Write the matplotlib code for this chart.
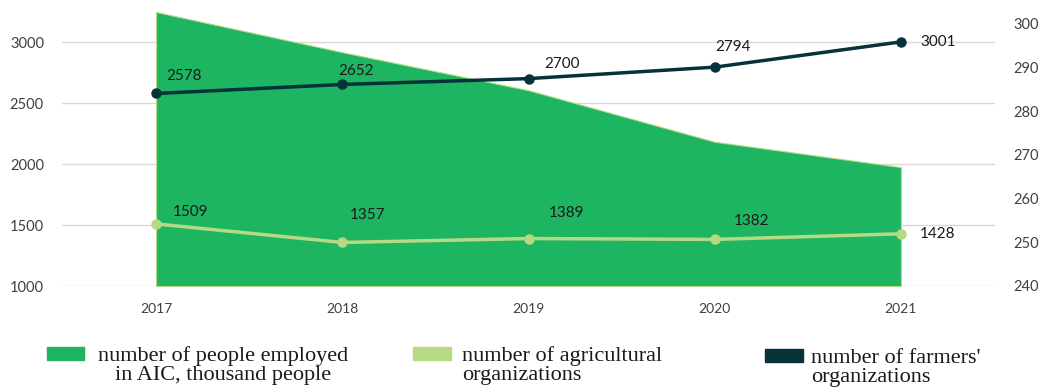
import numpy as np
import matplotlib
matplotlib.use('Agg')
import matplotlib.pyplot as plt
from matplotlib.patches import Rectangle
from matplotlib.transforms import blended_transform_factory

years = ['2017', '2018', '2019', '2020', '2021']
employed = [302.7, 293.5, 284.8, 273.0, 267.2]      # thousand people, right axis
agri_orgs = [1509, 1357, 1389, 1382, 1428]
farmer_orgs = [2578, 2652, 2700, 2794, 3001]

green = '#1db462'
light = '#b6da84'
dark = '#06323a'
txt = '#404040'

W, H = 1046, 390
fig = plt.figure(figsize=(W / 100, H / 100), dpi=100)
ax = fig.add_axes([62 / W, 1 - 286 / H, (995 - 62) / W, (286 - 12) / H])
ax2 = ax.twinx()

x = np.arange(len(years))

# area on the bottom axes (its ticks shown on the right)
ax.fill_between(x, 240, employed, color=green, edgecolor=light, linewidth=0.8, zorder=2)
ax.set_ylim(240, 302.7)
ax.yaxis.tick_right()
ax.set_yticks([240, 250, 260, 270, 280, 290, 300])
ax.set_xlim(-0.505, 4.505)
ax.set_xticks(x, years)

# lines on the top axes (ticks on the left)
ax2.yaxis.tick_left()
ax2.set_ylim(1000, 3246)
ax2.set_yticks([1000, 1500, 2000, 2500, 3000])

# gridlines for the left scale, drawn under the area
tr = blended_transform_factory(ax.transAxes, ax2.transData)
for v in [1000, 1500, 2000, 2500, 3000]:
    ax.plot([0, 1], [v, v], transform=tr, color='#d9d9d9', lw=1, zorder=1)

ax2.plot(x, agri_orgs, color=light, lw=2.5, marker='o', ms=6.5, zorder=3)
ax2.plot(x, farmer_orgs, color=dark, lw=2.5, marker='o', ms=6.5, zorder=4)

# label offsets in pixels (dx, dy upward)
dark_off = [(28, 17), (14, 13), (34, 15), (18, 20), (37, 0)]
light_off = [(34, 12), (25, 27), (38, 26), (37, 18), (37, 0)]
for i in range(len(years)):
    ax2.annotate(str(farmer_orgs[i]), (x[i], farmer_orgs[i]), xytext=dark_off[i],
                 textcoords='offset pixels', ha='center', va='center',
                 fontsize=11, color='#1a1a1a', family='Lato')
    ax2.annotate(str(agri_orgs[i]), (x[i], agri_orgs[i]), xytext=light_off[i],
                 textcoords='offset pixels', ha='center', va='center',
                 fontsize=11, color='#1a1a1a', family='Lato')

for a in (ax, ax2):
    for s in a.spines.values():
        s.set_visible(False)
    a.tick_params(length=0, labelsize=10.5, labelcolor=txt)
    for lab in a.get_xticklabels() + a.get_yticklabels():
        lab.set_family('Lato')
ax.tick_params(axis='y', pad=13)
ax2.tick_params(axis='y', pad=13)
ax.tick_params(axis='x', pad=12, labelsize=10)

# legend, built by hand
def fx(px):
    return px / W

def fy(py):
    return 1 - py / H

items = [
    (green, (47, 347, 37, 13), 223, 346, 'center', 'number of people employed\nin AIC, thousand people'),
    (light, (413, 347, 38, 13), 462, 346, 'left', 'number of agricultural\norganizations'),
    (dark, (765, 349, 38, 13), 811, 349, 'left', "number of farmers'\norganizations"),
]
for col, (rx, ry, rw, rh), tx, ty, al, label in items:
    fig.patches.append(Rectangle((fx(rx), fy(ry + rh)), rw / W, rh / H,
                                 transform=fig.transFigure, color=col))
    fig.text(fx(tx), fy(ty), label, ha=al, va='top', multialignment=al,
             fontsize=16, family='Liberation Serif', color='#1a1a1a', linespacing=1.0)

fig.savefig('out.png', dpi=100)
